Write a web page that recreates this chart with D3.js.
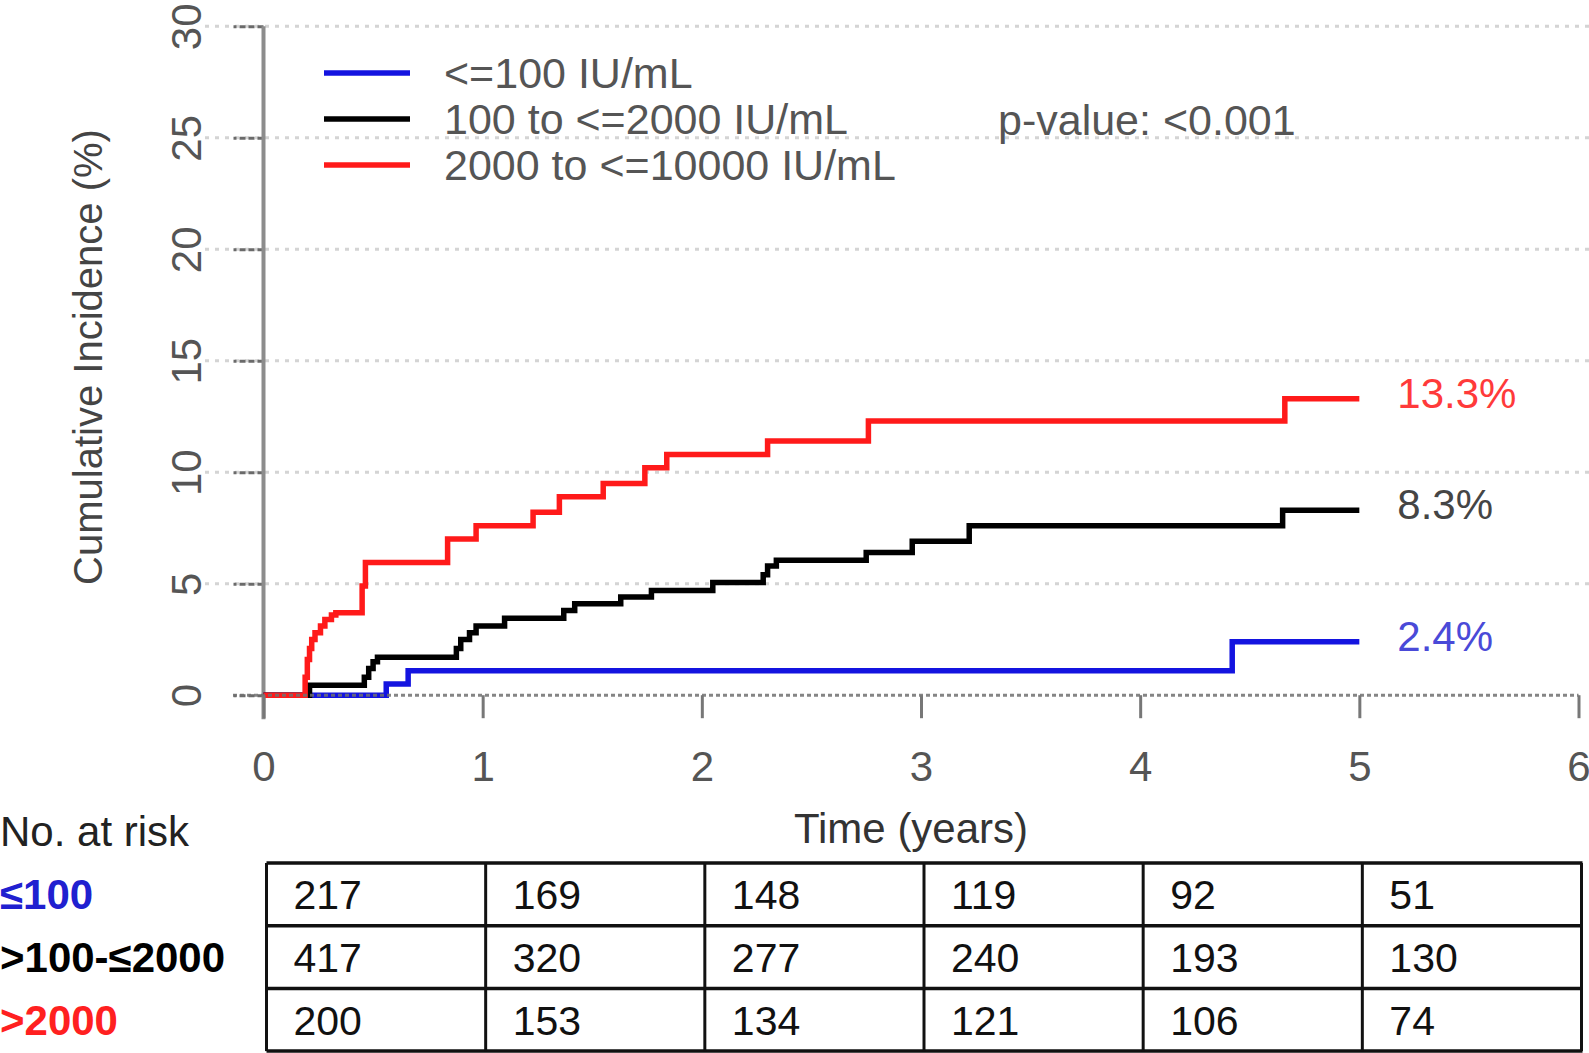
<!DOCTYPE html>
<html>
<head>
<meta charset="utf-8">
<script src="https://cdn.jsdelivr.net/npm/d3@7"></script>
<style>
  body { margin: 0; background: #fff; }
  svg text { font-family: "Liberation Sans", Arial, sans-serif; }
</style>
</head>
<body>
<svg id="chart" width="1589" height="1053"></svg>
<script>
// ticks
const xTicks = [0, 1, 2, 3, 4, 5, 6];
const yTicks = [0, 5, 10, 15, 20, 25, 30];

// groups
const groupNames = ["<=100 IU/mL", "100 to <=2000 IU/mL", "2000 to <=10000 IU/mL"];
const groupColors = ["#1414e0", "#000000", "#ff1a1a"];
const endLabels = ["2.4%", "8.3%", "13.3%"];
const endLabelColors = ["#4a4ad8", "#454545", "#ff3a3a"];

// step curves (time in years, cumulative incidence %)
const lowTimes = [0, 0.56, 0.66, 4.42, 5.0];
const lowValues = [0, 0.5, 1.1, 2.4, 2.4];
const midTimes = [0, 0.21, 0.46, 0.48, 0.50, 0.52, 0.88, 0.90, 0.94, 0.97, 1.10, 1.37, 1.42, 1.63, 1.77, 2.05, 2.28, 2.30, 2.34, 2.75, 2.96, 3.22, 4.65, 5.0];
const midValues = [0, 0.45, 0.8, 1.2, 1.5, 1.7, 2.1, 2.5, 2.8, 3.1, 3.45, 3.8, 4.1, 4.4, 4.7, 5.05, 5.4, 5.8, 6.05, 6.4, 6.9, 7.6, 8.3, 8.3];
const highTimes = [0, 0.19, 0.2, 0.21, 0.22, 0.235, 0.26, 0.28, 0.31, 0.33, 0.45, 0.465, 0.84, 0.97, 1.23, 1.35, 1.55, 1.74, 1.84, 2.30, 2.76, 4.66, 5.0];
const highValues = [0, 0.8, 1.6, 2.1, 2.5, 2.8, 3.1, 3.4, 3.6, 3.7, 4.9, 5.95, 7.0, 7.6, 8.2, 8.9, 9.5, 10.2, 10.8, 11.4, 12.3, 13.3, 13.3];

// number at risk table
const riskTimes = [0, 1, 2, 3, 4, 5];
const riskLabels = ["≤100", ">100-≤2000", ">2000"];
const riskLabelColors = ["#2020d0", "#000000", "#ff2020"];
const riskLow = [217, 169, 148, 119, 92, 51];
const riskMid = [417, 320, 277, 240, 193, 130];
const riskHigh = [200, 153, 134, 121, 106, 74];

const pValue = "p-value: <0.001";

const svg = d3.select("svg#chart");
const x = d3.scaleLinear().domain([0, 6]).range([263.5, 1578.5]);
const y = d3.scaleLinear().domain([0, 30]).range([695.2, 26.3]);

//dotted gridlines
yTicks.filter(d => d > 0).forEach(function(d){
  svg.append("line").attr("x1", 205).attr("x2", 1589).attr("y1", y(d)).attr("y2", y(d))
    .attr("stroke", "#d4d4d4").attr("stroke-width", 3).attr("stroke-dasharray", "4,6");
});

//y axis with dotted tick marks and rotated labels
const yAxis = svg.append("g").attr("transform", "translate(" + x(0) + ",0)")
  .call(d3.axisLeft(y).tickValues(yTicks).tickSize(30).tickPadding(0));
yAxis.select(".domain").remove();
yAxis.selectAll(".tick line").attr("stroke", "#6a6a6a").attr("stroke-width", 3).attr("stroke-dasharray", "6,3");
yAxis.selectAll(".tick text")
  .attr("x", 0).attr("dy", "0.36em")
  .attr("transform", "translate(-78,0) rotate(-90)")
  .attr("text-anchor", "middle")
  .style("font-size", "42px").style("fill", "#555")
  .style("font-family", "Liberation Sans, Arial, sans-serif");
svg.append("line").attr("x1", x(0)).attr("x2", x(0)).attr("y1", y(30)).attr("y2", y(0) + 24)
  .attr("stroke", "#8c8c8c").attr("stroke-width", 4);

//step curves
const line = d3.line().x(d => x(d[0])).y(d => y(d[1])).curve(d3.curveStepAfter);
const curves = [d3.zip(lowTimes, lowValues), d3.zip(midTimes, midValues), d3.zip(highTimes, highValues)];
curves.forEach(function(c, i){
  svg.append("path").attr("d", line(c)).attr("fill", "none")
    .attr("stroke", groupColors[i]).attr("stroke-width", 5.5).attr("stroke-linejoin", "miter");
});

//zero line and x axis ticks
svg.append("line").attr("x1", 233).attr("x2", x(6)).attr("y1", y(0)).attr("y2", y(0))
  .attr("stroke", "#707070").attr("stroke-width", 3).attr("stroke-dasharray", "4,3").attr("opacity", 0.85);
const xAxis = svg.append("g").attr("transform", "translate(0," + y(0) + ")")
  .call(d3.axisBottom(x).tickValues(xTicks).tickFormat(d3.format("d")).tickSize(23).tickPadding(33));
xAxis.select(".domain").remove();
xAxis.selectAll(".tick line").attr("stroke", "#777").attr("stroke-width", 3);
xAxis.selectAll(".tick text").style("font-size", "42px").style("fill", "#555")
  .style("font-family", "Liberation Sans, Arial, sans-serif");

//axis titles
svg.append("text").attr("transform", "translate(88,357) rotate(-90)")
  .attr("text-anchor", "middle").attr("dy", "0.36em")
  .style("font-size", "40px").style("fill", "#444").text("Cumulative Incidence (%)");
svg.append("text").attr("x", 911).attr("y", 828).attr("dy", "0.36em")
  .attr("text-anchor", "middle").style("font-size", "42px").style("fill", "#333").text("Time (years)");

//end labels
curves.forEach(function(c, i){
  const last = c[c.length - 1];
  svg.append("text").attr("x", x(last[0]) + 38).attr("y", y(last[1]) - 6).attr("dy", "0.36em")
    .style("font-size", "42px").style("fill", endLabelColors[i]).text(endLabels[i]);
});

//legend
const legend = svg.append("g").attr("transform", "translate(324,73)");
groupNames.forEach(function(name, i){
  legend.append("line").attr("x1", 0).attr("x2", 86).attr("y1", i * 46).attr("y2", i * 46)
    .attr("stroke", groupColors[i]).attr("stroke-width", 5.5);
  legend.append("text").attr("x", 120).attr("y", i * 46).attr("dy", "0.36em")
    .style("font-size", "43px").style("fill", "#555").text(name);
});
svg.append("text").attr("x", 998).attr("y", 120).attr("dy", "0.36em")
  .style("font-size", "43px").style("fill", "#555").text(pValue);

//number at risk table
svg.append("text").attr("x", 0).attr("y", 831).attr("dy", "0.36em")
  .style("font-size", "42px").style("fill", "#222").text("No. at risk");
const rowTop = 863, rowH = 62.7;
const tableRows = [riskLow, riskMid, riskHigh];
const table = svg.append("g");
d3.range(4).forEach(function(r){
  table.append("line").attr("x1", x(0) + 3).attr("x2", x(6) + 4)
    .attr("y1", rowTop + r * rowH).attr("y2", rowTop + r * rowH)
    .attr("stroke", "#111").attr("stroke-width", 3.5);
});
xTicks.forEach(function(t){
  table.append("line").attr("x1", x(t) + 3).attr("x2", x(t) + 3)
    .attr("y1", rowTop).attr("y2", rowTop + 3 * rowH)
    .attr("stroke", "#111").attr("stroke-width", 3);
});
tableRows.forEach(function(row, r){
  const cy = rowTop + (r + 0.5) * rowH;
  svg.append("text").attr("x", 0).attr("y", cy).attr("dy", "0.36em")
    .style("font-size", "42px").style("font-weight", "bold").style("fill", riskLabelColors[r])
    .text(riskLabels[r]);
  row.forEach(function(v, c){
    table.append("text").attr("x", x(riskTimes[c]) + 30).attr("y", cy).attr("dy", "0.36em")
      .style("font-size", "41px").style("fill", "#111").text(v);
  });
});
</script>
</body>
</html>
